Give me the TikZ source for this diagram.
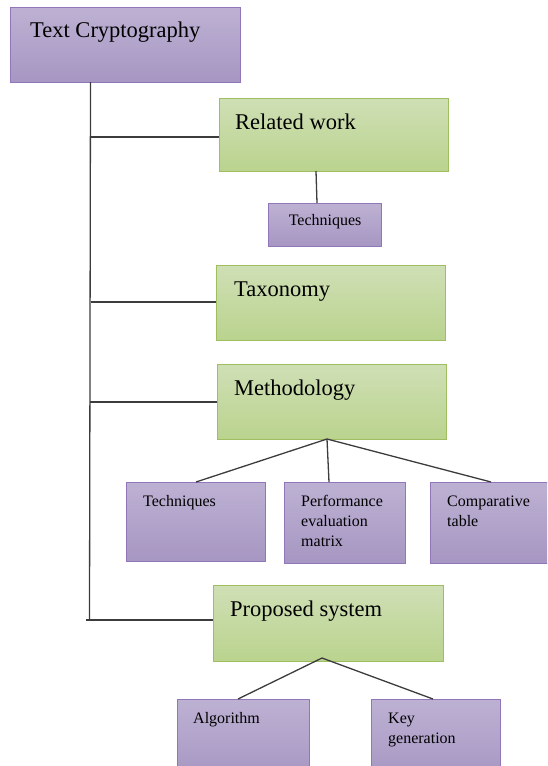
\documentclass[tikz,border=0pt]{standalone}
\usepackage{fontspec}
\setmainfont{Liberation Serif}
\definecolor{purpTop}{RGB}{189,177,211}
\definecolor{purpBot}{RGB}{166,150,194}
\definecolor{purpEdge}{RGB}{145,118,186}
\definecolor{grnTop}{RGB}{207,223,181}
\definecolor{grnBot}{RGB}{186,211,142}
\definecolor{grnEdge}{RGB}{158,190,95}
\definecolor{wire}{RGB}{60,60,60}
\tikzset{
  boxbase/.style={rectangle, anchor=north west, inner sep=0pt, line width=1.2pt},
  pbox/.style={boxbase, draw=purpEdge, top color=purpTop, bottom color=purpBot},
  gbox/.style={boxbase, draw=grnEdge, top color=grnTop, bottom color=grnBot},
  bigtxt/.style={anchor=base west, inner sep=0pt, font=\fontsize{22.5}{27}\selectfont},
  smalltxt/.style={anchor=base west, inner sep=0pt, text width=110pt, align=left,
    font=\fontsize{16}{20}\selectfont},
  wireline/.style={draw=wire, line width=1.3pt}
}
\begin{document}
\begin{tikzpicture}[x=1pt,y=-1pt]
\useasboundingbox (0,0) rectangle (547,766);
\clip (0,0) rectangle (547,766);

% root
\node[pbox, minimum width=230pt, minimum height=75pt] (root) at (9.5,7) {};
\node[bigtxt] (troot) at ([xshift=20.5pt,yshift=-30.5pt]root.north west) {Text Cryptography};

% main sections
\node[gbox, minimum width=229pt, minimum height=73pt] (rel) at (219,98) {};
\node[bigtxt] (trel) at ([xshift=16pt,yshift=-31pt]rel.north west) {Related work};

\node[gbox, minimum width=229pt, minimum height=75pt] (tax) at (216,265) {};
\node[bigtxt] (ttax) at ([xshift=18pt,yshift=-31pt]tax.north west) {Taxonomy};

\node[gbox, minimum width=229pt, minimum height=75pt] (meth) at (217,364) {};
\node[bigtxt] (tmeth) at ([xshift=17pt,yshift=-31pt]meth.north west) {Methodology};

\node[gbox, minimum width=230pt, minimum height=76pt] (prop) at (213,585) {};
\node[bigtxt] (tprop) at ([xshift=17pt,yshift=-31pt]prop.north west) {Proposed system};

% related work child
\node[pbox, minimum width=113pt, minimum height=43pt] (relT) at (268,203) {};
\node[anchor=base, inner sep=0pt, font=\fontsize{16}{20}\selectfont] (trelT)
  at ([yshift=-22pt]relT.north) {Techniques};

% methodology children
\node[pbox, minimum width=139pt, minimum height=79pt] (mT) at (126,482) {};
\node[smalltxt] (tmT) at ([xshift=17pt,yshift=-24pt]mT.north west) {Techniques};

\node[pbox, minimum width=121pt, minimum height=81pt] (mP) at (284,482) {};
\node[smalltxt] (tmP) at ([xshift=17pt,yshift=-24pt]mP.north west) {Performance\\evaluation\\matrix};

\node[pbox, minimum width=130pt, minimum height=81pt] (mC) at (430,482) {};
\node[smalltxt] (tmC) at ([xshift=17pt,yshift=-24pt]mC.north west) {Comparative\\table};

% proposed system children
\node[pbox, minimum width=132pt, minimum height=80pt] (pA) at (177,699) {};
\node[smalltxt] (tpA) at ([xshift=16pt,yshift=-24pt]pA.north west) {Algorithm};

\node[pbox, minimum width=129pt, minimum height=80pt] (pK) at (371,699) {};
\node[smalltxt] (tpK) at ([xshift=17pt,yshift=-24pt]pK.north west) {Key\\generation};

% trunk and branches
\coordinate (trunkTop) at (90.5,82);
\coordinate (trunkEnd) at (89.5,620);
\coordinate (trunkTail) at (86,620);
\draw[wireline] (trunkTop) -- (trunkEnd);
\draw[wireline] (90.5,137) -- (rel.west |- 0,137);
\draw[wireline] (90.5,302) -- (tax.west |- 0,302);
\draw[wireline] (90,402) -- (meth.west |- 0,402);
\draw[wireline] (trunkTail) -- (prop.west |- trunkTail);

% related work to techniques
\draw[wireline] (316,171) -- (relT.north -| 317,0);

% methodology fan
\coordinate (mApex) at (327,439);
\draw[wireline] (mApex) -- (mT.north -| 196,0);
\draw[wireline] (mApex) -- (mP.north -| 329,0);
\draw[wireline] (mApex) -- (mC.north -| 491,0);

% proposed system fan
\coordinate (pApex) at (322,658);
\draw[wireline] (pApex) -- (pA.north -| 238,0);
\draw[wireline] (pApex) -- (pK.north -| 433,0);
\end{tikzpicture}
\end{document}
